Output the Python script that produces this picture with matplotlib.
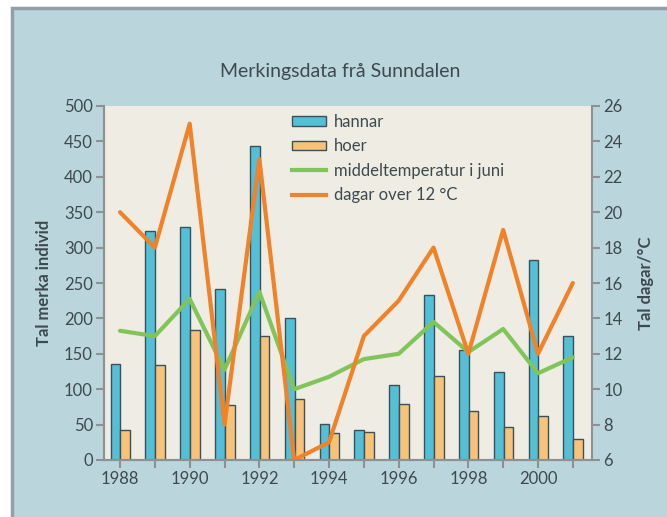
import numpy as np
import matplotlib.pyplot as plt
from matplotlib.patches import Rectangle
from matplotlib.lines import Line2D

plt.rcParams['font.family'] = ['Lato', 'DejaVu Sans']

# data
years = np.arange(1988, 2002)
hannar = [136, 323, 329, 242, 443, 201, 51, 43, 106, 233, 155, 124, 282, 175]
hoer = [42, 134, 183, 77, 175, 86, 38, 39, 79, 119, 69, 46, 62, 30]
temp_juni = [13.3, 13.0, 15.1, 11.1, 15.5, 10.0, 10.7, 11.7, 12.0, 13.8, 12.1, 13.4, 10.9, 11.8]
dagar_12 = [20, 18, 25, 8, 23, 6, 7, 13, 15, 18, 12, 19, 12, 16]

txt = '#3d4a50'
spine_col = '#8c9294'
bg = '#bad6dc'
plot_bg = '#efece4'
blue = '#55bfd6'
orange_bar = '#f7c27a'
green = '#80c45a'
orange = '#f0822a'
edge = '#3b5058'

fig = plt.figure(figsize=(6.67, 5.17), dpi=100)
fig.patch.set_facecolor('white')
# outer panel with grey border
fig.patches.append(Rectangle((12 / 667, -0.01), 1.0, 1 - 8 / 517 + 0.01, transform=fig.transFigure,
                             facecolor=bg, edgecolor='#939ea6', linewidth=2.5, zorder=-10))

ax = fig.add_axes([104 / 667, 57 / 517, 488 / 667, 354 / 517])
ax.set_facecolor(plot_bg)
w = 0.28
ax.bar(years - 0.13, hannar, width=w, color=blue, edgecolor=edge, linewidth=1, label='hannar')
ax.bar(years + 0.15, hoer, width=w, color=orange_bar, edgecolor=edge, linewidth=1, label='hoer')
ax.set_xlim(1987.54, 2001.55)
ax.set_ylim(0, 500)
ax.set_yticks(range(0, 501, 50))
ax.set_xticks(years)
ax.set_xticklabels([str(y) if y % 2 == 0 else '' for y in years])

ax2 = ax.twinx()
ax2.plot(years, temp_juni, color=green, linewidth=3, solid_capstyle='round', label='middeltemperatur i juni')
ax2.plot(years, dagar_12, color=orange, linewidth=3, solid_capstyle='round', label='dagar over 12 °C')
ax2.set_ylim(6, 26)
ax2.set_yticks(range(6, 27, 2))

for a in (ax, ax2):
    a.spines['top'].set_visible(False)
    for s in ('left', 'right', 'bottom'):
        a.spines[s].set_color(spine_col)
        a.spines[s].set_linewidth(1.5)
    a.tick_params(colors=spine_col, labelcolor=txt, labelsize=12, length=6, width=1.5, pad=2)
ax.spines['right'].set_visible(False)

ax.set_ylabel('Tal merka individ', fontsize=12, fontweight='bold', color=txt, labelpad=9)
ax2.set_ylabel('Tal dagar/°C', fontsize=12, fontweight='bold', color=txt, labelpad=11)

fig.text(340 / 667, 1 - 72 / 517, 'Merkingsdata frå Sunndalen', ha='center', va='center',
         fontsize=14, color=txt)

handles = [Rectangle((0, 0), 1, 1, facecolor=blue, edgecolor=edge, linewidth=1),
           Rectangle((0, 0), 1, 1, facecolor=orange_bar, edgecolor=edge, linewidth=1),
           Line2D([], [], color=green, linewidth=3),
           Line2D([], [], color=orange, linewidth=3)]
labels = ['hannar', 'hoer', 'middeltemperatur i juni', 'dagar over 12 °C']
leg = ax2.legend(handles, labels, loc='upper left', bbox_to_anchor=(0.355, 1.02), frameon=False,
                 fontsize=12, handlelength=2.0, handleheight=0.5, handletextpad=0.5, labelspacing=0.5,
                 labelcolor=txt)

fig.savefig('out.png', dpi=100, facecolor=fig.get_facecolor())
